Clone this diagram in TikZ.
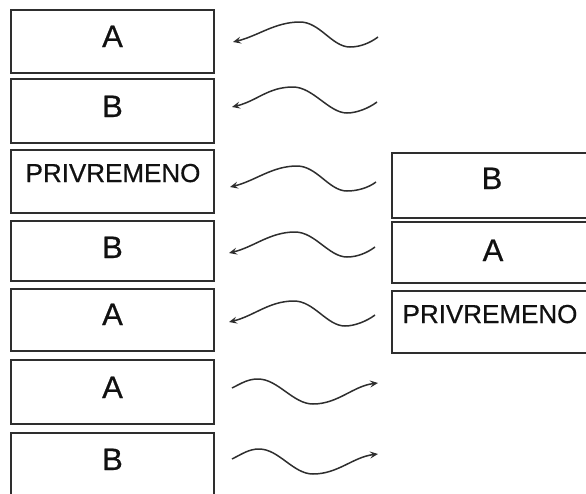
\documentclass[tikz,border=0pt]{standalone}
\usepackage{fontspec}
\setmainfont{Liberation Sans}
\newfontfamily\heavy[FakeBold=0.6]{Liberation Sans}
\usetikzlibrary{arrows.meta}
\definecolor{edge}{HTML}{2E2E2E}
\definecolor{ink}{HTML}{111111}
\tikzset{
  box/.style={draw=edge, line width=1.5pt, inner sep=0pt, outer sep=0pt},
  big/.style={text=ink, inner sep=0pt, anchor=base, font=\heavy\fontsize{31}{31}\selectfont},
  word/.style={text=ink, inner sep=0pt, anchor=base, font=\heavy\fontsize{26}{26}\selectfont},
  wave/.style={draw=edge, line width=1.5pt, -{Stealth[length=8pt,width=7pt,inset=3pt]}}
}
\newcommand\lwave[9]{%
  \coordinate (#1s) at (#2,#3);
  \coordinate (#1e) at (#8,#9);
  \draw[wave] (#1s) .. controls +(-8,6) and +(10,0) .. (#4,#5)
     .. controls +(-18,0) and +(20,0) .. (#6,#7)
     .. controls +(-25,0) and +(25,-6) .. (#1e);}
\newcommand\rwave[9]{%
  \coordinate (#1s) at (#2,#3);
  \coordinate (#1e) at (#8,#9);
  \draw[wave] (#1s) .. controls +(10,-5) and +(-10,0) .. (#4,#5)
     .. controls +(20,0) and +(-20,0) .. (#6,#7)
     .. controls +(25,0) and +(-25,3) .. (#1e);}
\begin{document}
\begin{tikzpicture}[x=1pt,y=-1pt]
\useasboundingbox (0,0) rectangle (586,493);
\clip (0,0) rectangle (586,493);
% left column
\node[box, minimum width=203pt, minimum height=63pt] (L1) at (112.5,41.5) {};
\node[box, minimum width=203pt, minimum height=64pt] (L2) at (112.5,111) {};
\node[box, minimum width=203pt, minimum height=63pt] (L3) at (112.5,181.5) {};
\node[box, minimum width=203pt, minimum height=60pt] (L4) at (112.5,251) {};
\node[box, minimum width=203pt, minimum height=62pt] (L5) at (112.5,320) {};
\node[box, minimum width=203pt, minimum height=64pt] (L6) at (112.5,392) {};
\node[box, minimum width=203pt, minimum height=64pt] (L7) at (112.5,465) {};
\node[big] (t1) at (112.5,47) {A};
\node[big] (t2) at (112.5,117) {B};
\node[word] (t3) at (113,182) {PRIVREMENO};
\node[big] (t4) at (112.5,258) {B};
\node[big] (t5) at (112.5,325) {A};
\node[big] (t6) at (112.5,398) {A};
\node[big] (t7) at (112.5,470) {B};
% right column
\node[box, minimum width=198pt, minimum height=65pt] (R1) at (491,185.5) {};
\node[box, minimum width=198pt, minimum height=61pt] (R2) at (491,252.5) {};
\node[box, minimum width=198pt, minimum height=62pt] (R3) at (491,322) {};
\node[big] (r1) at (492,189) {B};
\node[big] (r2) at (493,261) {A};
\node[word] (r3) at (490,323) {PRIVREMENO};
% wavy arrows
\lwave{w1}{378}{37}{350}{47}{300}{22}{233}{42}
\lwave{w2}{377}{102}{347}{113}{293}{87}{232}{107}
\lwave{w3}{376}{182}{347}{191}{297}{166}{230}{187}
\lwave{w4}{375}{247}{347}{257}{295}{232}{229}{253}
\lwave{w5}{375}{315}{345}{326}{294}{301}{229}{322}
\rwave{w6}{232}{388}{258}{379}{313}{404}{378}{383}
\rwave{w7}{232}{459}{259}{449}{313}{474}{378}{454}
\end{tikzpicture}
\end{document}
